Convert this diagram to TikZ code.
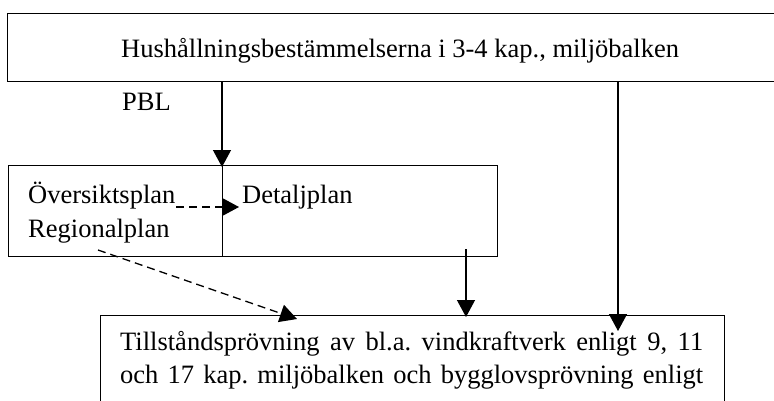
\documentclass[tikz,border=0pt]{standalone}
\usepackage{fontspec}
\setmainfont{Liberation Serif}
\usetikzlibrary{arrows.meta}
\begin{document}
\begin{tikzpicture}[x=1pt,y=-1pt,
  box/.style={draw,line width=1.3pt,rectangle,inner sep=0pt,anchor=north west},
  lbl/.style={inner sep=0pt,anchor=base west,font=\fontsize{26.5}{32}\selectfont\frenchspacing},
  arr/.style={line width=1.3pt,-{Triangle[length=17pt,width=18pt]}},
  darr/.style={arr,dash pattern=on 8pt off 5pt}]
\useasboundingbox (0,0) rectangle (774,400);
% boxes
\node[box,minimum width=790pt,minimum height=68pt] (top) at (7,13) {};
\node[box,minimum width=214pt,minimum height=91pt] (ml) at (8,165) {};
\node[box,minimum width=275pt,minimum height=91pt] (mr) at (222,165) {};
\node[box,minimum width=624pt,minimum height=110pt] (bot) at (100,315) {};
% texts
\node[lbl] (t1) at (121,57) {Hushållningsbestämmelserna i 3-4 kap., miljöbalken};
\node[lbl] (pbl) at (122,110) {PBL};
\node[lbl] (ov) at (28,203) {Översiktsplan};
\node[lbl] (rp) at (28,237) {Regionalplan};
\node[lbl] (dp) at (242,203) {Detaljplan};
\node[lbl] (b1) at (120,350) {\makebox[583pt][s]{Tillståndsprövning av bl.a. vindkraftverk enligt 9, 11}};
\node[lbl] (b2) at (120,383) {\makebox[583pt][s]{och 17 kap. miljöbalken och bygglovsprövning enligt}};
% connector ends
\coordinate (a1s) at (222,81);
\coordinate (a1e) at (222,167);
\coordinate (a2s) at (176,207);
\coordinate (a2e) at (239,207);
\coordinate (a3s) at (98,250);
\coordinate (a3e) at (297,319);
\coordinate (a4s) at (466,249);
\coordinate (a4e) at (466,317);
\coordinate (a5s) at (618,81);
\coordinate (a5e) at (618,331);
\draw[arr] (a1s) -- (a1e);
\draw[darr] (a2s) -- (a2e);
\draw[darr] (a3s) -- (a3e);
\draw[arr] (a4s) -- (a4e);
\draw[arr] (a5s) -- (a5e);
\end{tikzpicture}
\end{document}
